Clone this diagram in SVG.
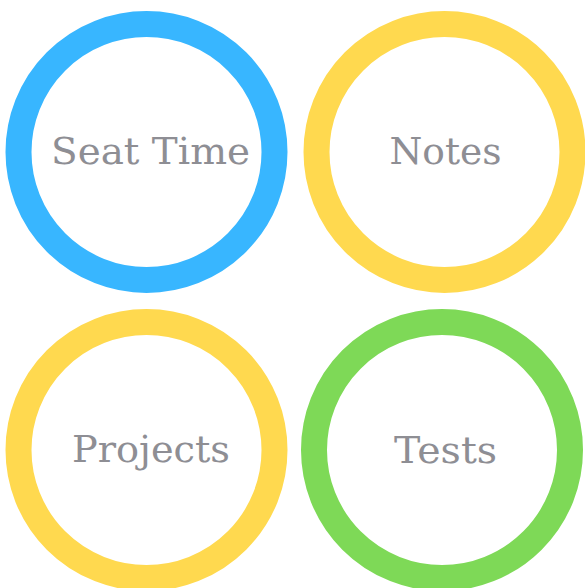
<svg xmlns="http://www.w3.org/2000/svg" width="585" height="588" viewBox="0 0 585 588">
<style>
.ring{fill:none;stroke-width:26}
.lbl{font-family:"DejaVu Serif","Liberation Serif",serif;font-size:38px;fill:#8e8e94;text-anchor:middle}
</style>
<rect width="585" height="588" fill="#ffffff"/>
<g id="seat-time">
<circle class="ring" cx="146.5" cy="152" r="128" stroke="#38b6ff"/>
<text class="lbl" x="150.5" y="164" textLength="199" lengthAdjust="spacingAndGlyphs">Seat Time</text>
</g>
<g id="notes">
<circle class="ring" cx="444.5" cy="152" r="128" stroke="#ffd94f"/>
<text class="lbl" x="445.5" y="164" textLength="112" lengthAdjust="spacingAndGlyphs">Notes</text>
</g>
<g id="projects">
<circle class="ring" cx="146.5" cy="450" r="128" stroke="#ffd94f"/>
<text class="lbl" x="151" y="462" textLength="158" lengthAdjust="spacingAndGlyphs">Projects</text>
</g>
<g id="tests">
<circle class="ring" cx="442" cy="450" r="128" stroke="#7ed957"/>
<text class="lbl" x="445.5" y="463" textLength="103" lengthAdjust="spacingAndGlyphs">Tests</text>
</g>
<g id="connectors"></g>
</svg>
